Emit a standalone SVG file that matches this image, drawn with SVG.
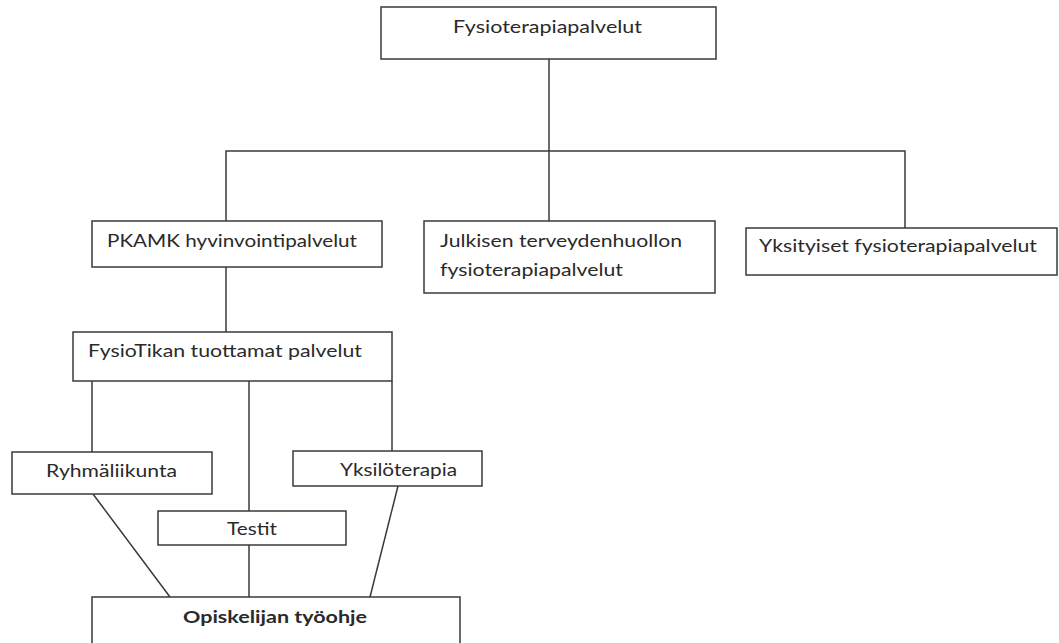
<svg xmlns="http://www.w3.org/2000/svg" width="1059" height="643" viewBox="0 0 1059 643">
  <style>
    .box { fill: #ffffff; stroke: #3a3a3a; stroke-width: 1.5; }
    .link { fill: none; stroke: #3a3a3a; stroke-width: 1.5; }
    .label { font-family: Lato, "Open Sans", "Liberation Sans", sans-serif; font-size: 17.5px; fill: #2a2a2a; }
    .bold { font-weight: bold; }
  </style>
  <rect width="1059" height="643" fill="#ffffff"/>

  <!-- connectors -->
  <g id="connectors">
    <line class="link" x1="549" y1="59" x2="549" y2="221"/>
    <polyline class="link" points="226,267 226,151 905,151 905,228"/>
    <line class="link" x1="226" y1="267" x2="226" y2="332"/>
    <line class="link" x1="92" y1="381" x2="92" y2="452"/>
    <line class="link" x1="249" y1="381" x2="249" y2="511"/>
    <line class="link" x1="392" y1="381" x2="392" y2="451"/>
    <line class="link" x1="249" y1="545" x2="249" y2="597"/>
    <line class="link" x1="93" y1="494" x2="170" y2="597"/>
    <line class="link" x1="398" y1="486" x2="370" y2="597"/>
  </g>

  <!-- nodes -->
  <g id="fysioterapiapalvelut">
    <rect class="box" x="381" y="7" width="335" height="52"/>
    <text class="label" x="453" y="33" textLength="189" lengthAdjust="spacingAndGlyphs">Fysioterapiapalvelut</text>
  </g>
  <g id="pkamk">
    <rect class="box" x="92" y="221" width="290" height="46"/>
    <text class="label" x="107" y="247" textLength="250" lengthAdjust="spacingAndGlyphs">PKAMK hyvinvointipalvelut</text>
  </g>
  <g id="julkinen">
    <rect class="box" x="424" y="221" width="291" height="72"/>
    <text class="label" x="440" y="247" textLength="242" lengthAdjust="spacingAndGlyphs">Julkisen terveydenhuollon</text>
    <text class="label" x="440" y="276" textLength="183" lengthAdjust="spacingAndGlyphs">fysioterapiapalvelut</text>
  </g>
  <g id="yksityiset">
    <rect class="box" x="746" y="228" width="311" height="47"/>
    <text class="label" x="759" y="252" textLength="278" lengthAdjust="spacingAndGlyphs">Yksityiset fysioterapiapalvelut</text>
  </g>
  <g id="fysiotikka">
    <rect class="box" x="73" y="332" width="319" height="49"/>
    <text class="label" x="88" y="357" textLength="274" lengthAdjust="spacingAndGlyphs">FysioTikan tuottamat palvelut</text>
  </g>
  <g id="ryhmaliikunta">
    <rect class="box" x="12" y="452" width="200" height="42"/>
    <text class="label" x="46" y="477" textLength="131" lengthAdjust="spacingAndGlyphs">Ryhmäliikunta</text>
  </g>
  <g id="yksiloterapia">
    <rect class="box" x="293" y="451" width="189" height="35"/>
    <text class="label" x="340" y="476" textLength="117" lengthAdjust="spacingAndGlyphs">Yksilöterapia</text>
  </g>
  <g id="testit">
    <rect class="box" x="158" y="511" width="188" height="34"/>
    <text class="label" x="227" y="535" textLength="50" lengthAdjust="spacingAndGlyphs">Testit</text>
  </g>
  <g id="opiskelijan-tyoohje">
    <rect class="box" x="92" y="597" width="368" height="60"/>
    <text class="label bold" x="183" y="623" textLength="184" lengthAdjust="spacingAndGlyphs">Opiskelijan työohje</text>
  </g>
</svg>
